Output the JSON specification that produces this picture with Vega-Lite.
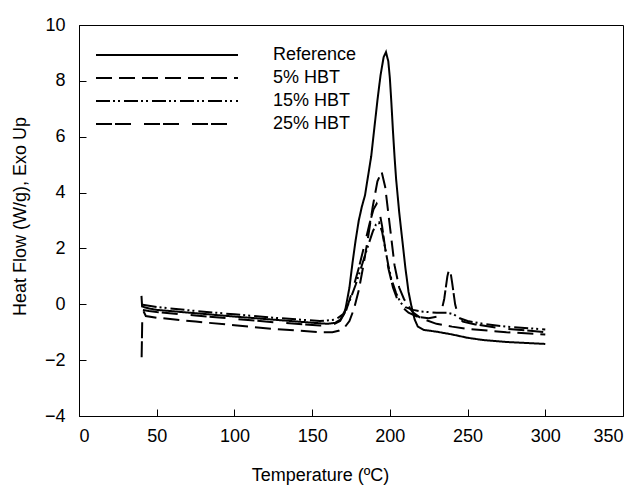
{
  "$schema": "https://vega.github.io/schema/vega-lite/v6.json",
  "width": 544,
  "height": 391,
  "autosize": "none",
  "padding": {"left": 79, "top": 25, "right": 21, "bottom": 73},
  "background": "white",
  "config": {
    "font": "Liberation Sans",
    "view": {"stroke": "black", "strokeWidth": 1},
    "axis": {
      "grid": false,
      "domainColor": "black",
      "domainWidth": 1,
      "tickColor": "black",
      "tickWidth": 1,
      "tickSize": -7,
      "labelFont": "Liberation Sans",
      "labelFontSize": 18,
      "labelColor": "black",
      "titleFont": "Liberation Sans",
      "titleFontSize": 18,
      "titleFontWeight": "normal",
      "titleColor": "black"
    }
  },
  "data": {
    "values": [
      {"series": "Reference", "T": 40.2, "hf": 0.3},
      {"series": "Reference", "T": 40.6, "hf": -0.08},
      {"series": "Reference", "T": 45, "hf": -0.15},
      {"series": "Reference", "T": 50, "hf": -0.2},
      {"series": "Reference", "T": 75, "hf": -0.32},
      {"series": "Reference", "T": 100, "hf": -0.44},
      {"series": "Reference", "T": 125, "hf": -0.55},
      {"series": "Reference", "T": 150, "hf": -0.66},
      {"series": "Reference", "T": 160, "hf": -0.7},
      {"series": "Reference", "T": 165, "hf": -0.66},
      {"series": "Reference", "T": 168, "hf": -0.55},
      {"series": "Reference", "T": 171, "hf": -0.3},
      {"series": "Reference", "T": 174, "hf": 0.6},
      {"series": "Reference", "T": 176, "hf": 1.5},
      {"series": "Reference", "T": 178, "hf": 2.3},
      {"series": "Reference", "T": 180, "hf": 3.0},
      {"series": "Reference", "T": 182, "hf": 3.5},
      {"series": "Reference", "T": 184, "hf": 3.9},
      {"series": "Reference", "T": 186, "hf": 4.6},
      {"series": "Reference", "T": 188, "hf": 5.3},
      {"series": "Reference", "T": 190, "hf": 6.3},
      {"series": "Reference", "T": 192, "hf": 7.3},
      {"series": "Reference", "T": 194, "hf": 8.2},
      {"series": "Reference", "T": 196, "hf": 8.85},
      {"series": "Reference", "T": 197.5, "hf": 9.03},
      {"series": "Reference", "T": 199, "hf": 8.7},
      {"series": "Reference", "T": 200, "hf": 8.1},
      {"series": "Reference", "T": 201, "hf": 7.2},
      {"series": "Reference", "T": 202, "hf": 6.2},
      {"series": "Reference", "T": 203, "hf": 5.3},
      {"series": "Reference", "T": 204, "hf": 4.5},
      {"series": "Reference", "T": 206, "hf": 3.3},
      {"series": "Reference", "T": 208, "hf": 2.3},
      {"series": "Reference", "T": 210, "hf": 1.3},
      {"series": "Reference", "T": 212, "hf": 0.45},
      {"series": "Reference", "T": 214, "hf": -0.1},
      {"series": "Reference", "T": 216, "hf": -0.55},
      {"series": "Reference", "T": 218, "hf": -0.8},
      {"series": "Reference", "T": 222, "hf": -0.92},
      {"series": "Reference", "T": 230, "hf": -0.98},
      {"series": "Reference", "T": 240, "hf": -1.08},
      {"series": "Reference", "T": 250, "hf": -1.2},
      {"series": "Reference", "T": 260, "hf": -1.28},
      {"series": "Reference", "T": 275, "hf": -1.35},
      {"series": "Reference", "T": 300, "hf": -1.42},

      {"series": "5% HBT", "T": 41.5, "hf": -0.25},
      {"series": "5% HBT", "T": 43, "hf": -0.42},
      {"series": "5% HBT", "T": 50, "hf": -0.48},
      {"series": "5% HBT", "T": 75, "hf": -0.62},
      {"series": "5% HBT", "T": 100, "hf": -0.75},
      {"series": "5% HBT", "T": 125, "hf": -0.88},
      {"series": "5% HBT", "T": 155, "hf": -1.0},
      {"series": "5% HBT", "T": 163, "hf": -1.0},
      {"series": "5% HBT", "T": 167, "hf": -0.95},
      {"series": "5% HBT", "T": 171, "hf": -0.82},
      {"series": "5% HBT", "T": 174, "hf": -0.6},
      {"series": "5% HBT", "T": 177, "hf": -0.15},
      {"series": "5% HBT", "T": 180, "hf": 0.5},
      {"series": "5% HBT", "T": 183, "hf": 1.4},
      {"series": "5% HBT", "T": 186, "hf": 2.4},
      {"series": "5% HBT", "T": 189, "hf": 3.5},
      {"series": "5% HBT", "T": 192, "hf": 4.4},
      {"series": "5% HBT", "T": 194.7, "hf": 4.75},
      {"series": "5% HBT", "T": 197, "hf": 4.2},
      {"series": "5% HBT", "T": 200, "hf": 2.8},
      {"series": "5% HBT", "T": 203, "hf": 1.4},
      {"series": "5% HBT", "T": 206, "hf": 0.6},
      {"series": "5% HBT", "T": 209, "hf": 0.2},
      {"series": "5% HBT", "T": 211, "hf": 0.0},
      {"series": "5% HBT", "T": 215, "hf": -0.3},
      {"series": "5% HBT", "T": 220, "hf": -0.5},
      {"series": "5% HBT", "T": 230, "hf": -0.7},
      {"series": "5% HBT", "T": 240, "hf": -0.8},
      {"series": "5% HBT", "T": 250, "hf": -0.88},
      {"series": "5% HBT", "T": 275, "hf": -1.0},
      {"series": "5% HBT", "T": 300, "hf": -1.08},

      {"series": "15% HBT", "T": 41, "hf": -0.02},
      {"series": "15% HBT", "T": 50, "hf": -0.1},
      {"series": "15% HBT", "T": 75, "hf": -0.24},
      {"series": "15% HBT", "T": 100, "hf": -0.36},
      {"series": "15% HBT", "T": 125, "hf": -0.48},
      {"series": "15% HBT", "T": 155, "hf": -0.6},
      {"series": "15% HBT", "T": 165, "hf": -0.55},
      {"series": "15% HBT", "T": 170, "hf": -0.35},
      {"series": "15% HBT", "T": 174, "hf": 0.1},
      {"series": "15% HBT", "T": 178, "hf": 0.7},
      {"series": "15% HBT", "T": 182, "hf": 1.4},
      {"series": "15% HBT", "T": 186, "hf": 2.1},
      {"series": "15% HBT", "T": 189, "hf": 2.6},
      {"series": "15% HBT", "T": 191, "hf": 2.85},
      {"series": "15% HBT", "T": 193, "hf": 2.93},
      {"series": "15% HBT", "T": 195, "hf": 2.6},
      {"series": "15% HBT", "T": 197, "hf": 2.0},
      {"series": "15% HBT", "T": 199, "hf": 1.4},
      {"series": "15% HBT", "T": 201, "hf": 0.9},
      {"series": "15% HBT", "T": 204, "hf": 0.4},
      {"series": "15% HBT", "T": 207, "hf": 0.05},
      {"series": "15% HBT", "T": 210, "hf": -0.1},
      {"series": "15% HBT", "T": 215, "hf": -0.2},
      {"series": "15% HBT", "T": 220, "hf": -0.26},
      {"series": "15% HBT", "T": 230, "hf": -0.3},
      {"series": "15% HBT", "T": 237, "hf": -0.3},
      {"series": "15% HBT", "T": 241, "hf": -0.36},
      {"series": "15% HBT", "T": 245, "hf": -0.5},
      {"series": "15% HBT", "T": 250, "hf": -0.6},
      {"series": "15% HBT", "T": 260, "hf": -0.7},
      {"series": "15% HBT", "T": 275, "hf": -0.8},
      {"series": "15% HBT", "T": 300, "hf": -0.9},

      {"series": "25% HBT", "T": 40.3, "hf": -1.9},
      {"series": "25% HBT", "T": 40.8, "hf": -0.2},
      {"series": "25% HBT", "T": 45, "hf": -0.24},
      {"series": "25% HBT", "T": 50, "hf": -0.28},
      {"series": "25% HBT", "T": 75, "hf": -0.4},
      {"series": "25% HBT", "T": 100, "hf": -0.52},
      {"series": "25% HBT", "T": 125, "hf": -0.64},
      {"series": "25% HBT", "T": 155, "hf": -0.76},
      {"series": "25% HBT", "T": 163, "hf": -0.74},
      {"series": "25% HBT", "T": 168, "hf": -0.6},
      {"series": "25% HBT", "T": 172, "hf": -0.2},
      {"series": "25% HBT", "T": 176, "hf": 0.5},
      {"series": "25% HBT", "T": 180, "hf": 1.3},
      {"series": "25% HBT", "T": 184, "hf": 2.2},
      {"series": "25% HBT", "T": 187, "hf": 2.9},
      {"series": "25% HBT", "T": 189.5, "hf": 3.4},
      {"series": "25% HBT", "T": 191.5, "hf": 3.6},
      {"series": "25% HBT", "T": 193, "hf": 3.4},
      {"series": "25% HBT", "T": 195, "hf": 2.8},
      {"series": "25% HBT", "T": 197, "hf": 2.0},
      {"series": "25% HBT", "T": 199, "hf": 1.3},
      {"series": "25% HBT", "T": 202, "hf": 0.6},
      {"series": "25% HBT", "T": 205, "hf": 0.15},
      {"series": "25% HBT", "T": 208, "hf": -0.1},
      {"series": "25% HBT", "T": 212, "hf": -0.3},
      {"series": "25% HBT", "T": 218, "hf": -0.45},
      {"series": "25% HBT", "T": 225, "hf": -0.5},
      {"series": "25% HBT", "T": 230, "hf": -0.45},
      {"series": "25% HBT", "T": 233, "hf": -0.3},
      {"series": "25% HBT", "T": 235, "hf": 0.2},
      {"series": "25% HBT", "T": 237, "hf": 1.0},
      {"series": "25% HBT", "T": 238.5, "hf": 1.35},
      {"series": "25% HBT", "T": 240, "hf": 0.8},
      {"series": "25% HBT", "T": 242, "hf": 0.0},
      {"series": "25% HBT", "T": 244, "hf": -0.45},
      {"series": "25% HBT", "T": 247, "hf": -0.62},
      {"series": "25% HBT", "T": 255, "hf": -0.72},
      {"series": "25% HBT", "T": 270, "hf": -0.85},
      {"series": "25% HBT", "T": 300, "hf": -1.0}
    ]
  },
  "mark": {"type": "line", "color": "black", "strokeWidth": 2, "clip": true},
  "encoding": {
    "x": {
      "field": "T",
      "type": "quantitative",
      "scale": {"domain": [0, 350], "nice": false, "zero": false},
      "axis": {
        "values": [0, 50, 100, 150, 200, 250, 300, 350],
        "title": "Temperature (ºC)",
        "labelPadding": 18,
        "titleX": 241,
        "titleY": 64,
        "titleAnchor": "start",
        "titleAlign": "center",
        "titleBaseline": "alphabetic"
      }
    },
    "y": {
      "field": "hf",
      "type": "quantitative",
      "scale": {"domain": [-4, 10], "nice": false, "zero": false},
      "axis": {
        "values": [-4, -2, 0, 2, 4, 6, 8, 10],
        "title": "Heat Flow (W/g), Exo Up",
        "labelPadding": 21,
        "titleX": -59,
        "titleY": 191,
        "titleAngle": -90,
        "titleAlign": "center",
        "titleBaseline": "middle",
        "titleAnchor": "start"
      }
    },
    "strokeDash": {
      "field": "series",
      "type": "nominal",
      "scale": {
        "domain": ["Reference", "5% HBT", "15% HBT", "25% HBT"],
        "range": [[1, 0], [16, 7], [14, 3, 2, 3, 2, 4], [16, 3, 16, 13]]
      },
      "legend": {
        "title": null,
        "orient": "none",
        "legendX": 16,
        "legendY": 20,
        "padding": 0,
        "symbolType": "stroke",
        "symbolSize": 20164,
        "symbolStrokeWidth": 2,
        "symbolStrokeColor": "black",
        "clipHeight": 20,
        "labelFont": "Liberation Sans",
        "labelFontSize": 18,
        "labelColor": "black",
        "labelOffset": 34,
        "rowPadding": 3
      }
    }
  }
}
